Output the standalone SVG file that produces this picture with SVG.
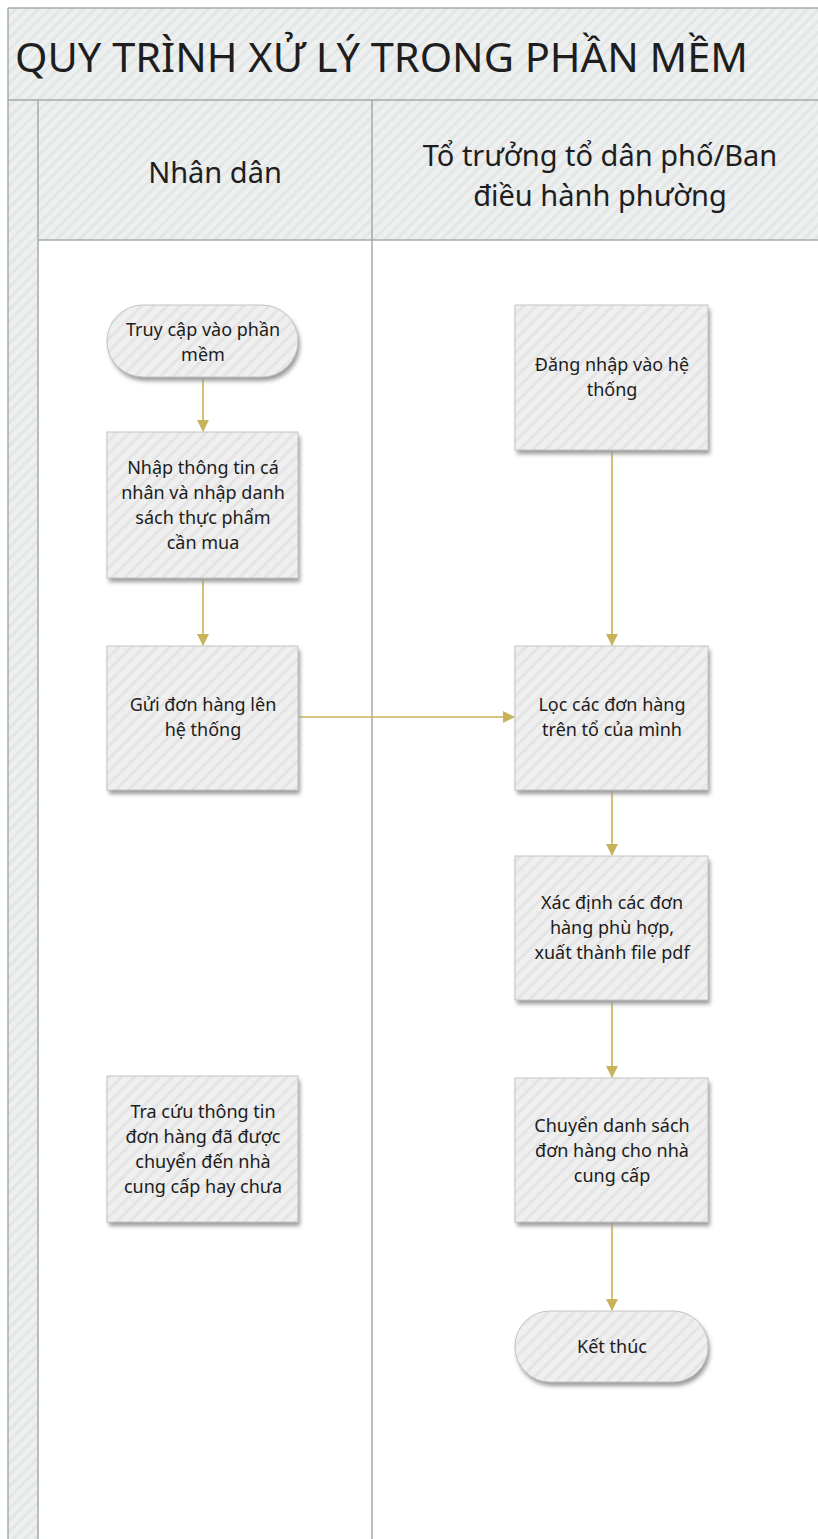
<svg xmlns="http://www.w3.org/2000/svg" width="818" height="1539" viewBox="0 0 818 1539">
<style>
.lane{stroke:#a3abab;stroke-width:1.5;fill:none}
.hdr{font-family:"Noto Sans","Open Sans",sans-serif;fill:#1e1e1e}
.node{fill:url(#hatchNode);stroke:#c4c4c4;stroke-width:1}
.nt{font-family:"Noto Sans","Open Sans",sans-serif;font-size:18px;fill:#1c1c1c;text-anchor:middle}
.conn{stroke:#c8b25a;stroke-width:1.6;fill:none;marker-end:url(#arr)}
</style>
<defs>
<pattern id="hatchHdr" width="8" height="8" patternUnits="userSpaceOnUse" patternTransform="rotate(45)">
<rect width="8" height="8" fill="#eef0f0"/>
<rect width="3" height="8" fill="#e3e6e6"/>
</pattern>
<pattern id="hatchNode" width="9" height="9" patternUnits="userSpaceOnUse" patternTransform="rotate(45)">
<rect width="9" height="9" fill="#efefef"/>
<rect width="3" height="9" fill="#e4e4e4"/>
</pattern>
<filter id="sh" x="-10%" y="-10%" width="130%" height="130%">
<feGaussianBlur stdDeviation="2"/>
</filter>
<marker id="arr" markerWidth="12" markerHeight="12" refX="11" refY="6" orient="auto" markerUnits="userSpaceOnUse">
<path d="M0,0 L12,6 L0,12 Z" fill="#c8b25a"/>
</marker>
</defs>
<rect width="818" height="1539" fill="#ffffff"/>
<g id="pool">
<rect x="8" y="8" width="812" height="92" fill="url(#hatchHdr)"/>
<rect x="8" y="100" width="30" height="1439" fill="url(#hatchHdr)"/>
<rect x="38" y="100" width="782" height="140" fill="url(#hatchHdr)"/>
<line class="lane" x1="8" y1="8" x2="818" y2="8"/>
<line class="lane" x1="8" y1="8" x2="8" y2="1539"/>
<line class="lane" x1="8" y1="100" x2="818" y2="100"/>
<line class="lane" x1="38" y1="100" x2="38" y2="1539"/>
<line class="lane" x1="372" y1="100" x2="372" y2="1539"/>
<line class="lane" x1="38" y1="240" x2="818" y2="240"/>
<text class="hdr" x="15" y="72" font-size="40" textLength="733" lengthAdjust="spacingAndGlyphs">QUY TRÌNH XỬ LÝ TRONG PHẦN MỀM</text>
<text class="hdr" x="215" y="183" font-size="29" text-anchor="middle">Nhân dân</text>
<text class="hdr" x="600" y="166" font-size="29" text-anchor="middle">Tổ trưởng tổ dân phố/Ban</text>
<text class="hdr" x="600" y="206" font-size="29" text-anchor="middle">điều hành phường</text>
</g>
<g id="connectors">
<line class="conn" x1="203" y1="378" x2="203" y2="431"/>
<line class="conn" x1="203" y1="579" x2="203" y2="645"/>
<line class="conn" x1="299" y1="717" x2="514" y2="717"/>
<line class="conn" x1="612" y1="451" x2="612" y2="645"/>
<line class="conn" x1="612" y1="791" x2="612" y2="855"/>
<line class="conn" x1="612" y1="1001" x2="612" y2="1077"/>
<line class="conn" x1="612" y1="1223" x2="612" y2="1310"/>
</g>
<g id="n1">
<rect x="109" y="309" width="191" height="72" rx="36" fill="#9a9a9a" filter="url(#sh)"/>
<rect class="node" x="107" y="305" width="191" height="72" rx="36"/>
<text class="nt" x="203" y="336">Truy cập vào phần</text>
<text class="nt" x="203" y="361">mềm</text>
</g>
<g id="n2">
<rect x="109" y="436" width="191" height="146" fill="#9a9a9a" filter="url(#sh)"/>
<rect class="node" x="107" y="432" width="191" height="146"/>
<text class="nt" x="203" y="474">Nhập thông tin cá</text>
<text class="nt" x="203" y="499">nhân và nhập danh</text>
<text class="nt" x="203" y="524">sách thực phẩm</text>
<text class="nt" x="203" y="549">cần mua</text>
</g>
<g id="n3">
<rect x="109" y="650" width="191" height="144" fill="#9a9a9a" filter="url(#sh)"/>
<rect class="node" x="107" y="646" width="191" height="144"/>
<text class="nt" x="203" y="711">Gửi đơn hàng lên</text>
<text class="nt" x="203" y="736">hệ thống</text>
</g>
<g id="n4">
<rect x="109" y="1080" width="191" height="146" fill="#9a9a9a" filter="url(#sh)"/>
<rect class="node" x="107" y="1076" width="191" height="146"/>
<text class="nt" x="203" y="1118">Tra cứu thông tin</text>
<text class="nt" x="203" y="1143">đơn hàng đã được</text>
<text class="nt" x="203" y="1168">chuyển đến nhà</text>
<text class="nt" x="203" y="1193">cung cấp hay chưa</text>
</g>
<g id="n5">
<rect x="517" y="309" width="193" height="145" fill="#9a9a9a" filter="url(#sh)"/>
<rect class="node" x="515" y="305" width="193" height="145"/>
<text class="nt" x="612" y="371">Đăng nhập vào hệ</text>
<text class="nt" x="612" y="396">thống</text>
</g>
<g id="n6">
<rect x="517" y="650" width="193" height="144" fill="#9a9a9a" filter="url(#sh)"/>
<rect class="node" x="515" y="646" width="193" height="144"/>
<text class="nt" x="612" y="711">Lọc các đơn hàng</text>
<text class="nt" x="612" y="736">trên tổ của mình</text>
</g>
<g id="n7">
<rect x="517" y="860" width="193" height="144" fill="#9a9a9a" filter="url(#sh)"/>
<rect class="node" x="515" y="856" width="193" height="144"/>
<text class="nt" x="612" y="909">Xác định các đơn</text>
<text class="nt" x="612" y="934">hàng phù hợp,</text>
<text class="nt" x="612" y="959">xuất thành file pdf</text>
</g>
<g id="n8">
<rect x="517" y="1082" width="193" height="144" fill="#9a9a9a" filter="url(#sh)"/>
<rect class="node" x="515" y="1078" width="193" height="144"/>
<text class="nt" x="612" y="1132">Chuyển danh sách</text>
<text class="nt" x="612" y="1157">đơn hàng cho nhà</text>
<text class="nt" x="612" y="1182">cung cấp</text>
</g>
<g id="n9">
<rect x="517" y="1315" width="193" height="71" rx="35" fill="#9a9a9a" filter="url(#sh)"/>
<rect class="node" x="515" y="1311" width="193" height="71" rx="35"/>
<text class="nt" x="612" y="1353">Kết thúc</text>
</g>
</svg>
